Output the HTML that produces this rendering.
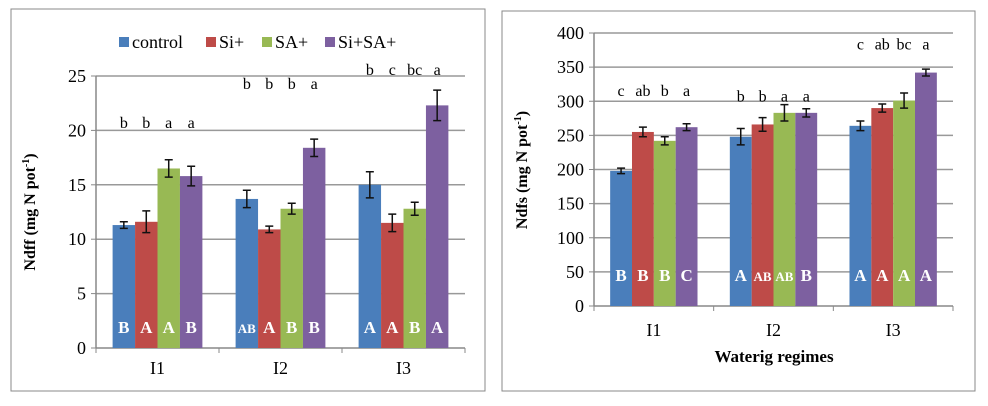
<!DOCTYPE html>
<html><head><meta charset="utf-8"><style>
body{margin:0;background:#fff;width:988px;height:401px;overflow:hidden;font-family:"Liberation Serif","DejaVu Serif",serif}
</style></head><body>
<svg id="s" width="988" height="401" xmlns="http://www.w3.org/2000/svg" font-family="'Liberation Serif','DejaVu Serif',serif">
<rect x="11" y="9" width="474" height="382" fill="#fff" stroke="#888"/>
<rect x="502" y="11" width="473" height="380" fill="#fff" stroke="#888"/>
<g id="legend"></g>
<text x="35" y="212" transform="rotate(-90 35 212)" text-anchor="middle" font-weight="bold" font-size="16">Ndff (mg N pot<tspan font-size="10" dy="-6">-1</tspan><tspan dy="6">)</tspan></text>
<text x="527" y="170" transform="rotate(-90 527 170)" text-anchor="middle" font-weight="bold" font-size="16">Ndfs (mg N pot<tspan font-size="10" dy="-6">-1</tspan><tspan dy="6">)</tspan></text>
<text x="774" y="362" text-anchor="middle" font-weight="bold" font-size="17">Waterig regimes</text>
</svg>
<script>
const categories=["I1","I2","I3"];
const seriesNames=["control","Si+","SA+","Si+SA+"];
const colors=["#4a7ebb","#be4b48","#98b954","#7d60a0"];
const leftControl=[11.3,13.7,15.0];
const leftSi=[11.6,10.9,11.5];
const leftSA=[16.5,12.8,12.8];
const leftSiSA=[15.8,18.4,22.3];
const leftErrControl=[0.3,0.8,1.2];
const leftErrSi=[1.0,0.3,0.8];
const leftErrSA=[0.8,0.5,0.6];
const leftErrSiSA=[0.9,0.8,1.4];
const leftTicks=[0,5,10,15,20,25];
const leftTop=[["b","b","a","a"],["b","b","b","a"],["b","c","bc","a"]];
const leftBottom=[["B","A","A","B"],["AB","A","B","B"],["A","A","B","A"]];
const leftTopVal=[20.2,23.8,25.1];
const rightControl=[198,248,264];
const rightSi=[255,266,290];
const rightSA=[242,283,301];
const rightSiSA=[262,283,342];
const rightErrControl=[4,12,7];
const rightErrSi=[7,10,6];
const rightErrSA=[6,12,11];
const rightErrSiSA=[5,6,5];
const rightTicks=[0,50,100,150,200,250,300,350,400];
const rightTop=[["c","ab","b","a"],["b","b","a","a"],["c","ab","bc","a"]];
const rightBottom=[["B","B","B","C"],["A","AB","AB","B"],["A","A","A","A"]];
const rightTopVal=[308,300,376];

const NS="http://www.w3.org/2000/svg";
const svg=document.getElementById('s');
function mk(t,a,txt,parent){const e=document.createElementNS(NS,t);for(const k in a)e.setAttribute(k,a[k]);if(txt!==undefined)e.textContent=txt;(parent||svg).appendChild(e);return e;}

function chart(cfg){
  const {x0,x1,y0,yTop,max,ticks,vals,errs,top,bottom,topVal,bottomY,pfx}=cfg;
  const ys=v=>y0-(v/max)*(y0-yTop);
  const cw=(x1-x0)/categories.length;
  ticks.forEach(t=>{
    if(t>0){const g=mk('line',{x1:x0,x2:x1,y1:ys(t),y2:ys(t),stroke:'#999','stroke-width':1.5});
    
    }
    const tl=mk('text',{x:x0-10,y:ys(t)+6,'text-anchor':'end','font-size':18},String(t));
    
    
    mk('line',{x1:x0-5,x2:x0,y1:ys(t),y2:ys(t),stroke:'#888'});
  });
  const ax=mk('line',{x1:x0,x2:x0,y1:yTop,y2:y0,stroke:'#888','stroke-width':1.5});
  
  
  const xa=mk('line',{x1:x0,x2:x1,y1:y0,y2:y0,stroke:'#888','stroke-width':1.5});
  
  
  for(let i=0;i<=categories.length;i++)mk('line',{x1:x0+i*cw,x2:x0+i*cw,y1:y0,y2:y0+5,stroke:'#888'});
  const gw=cw*0.73, bw=gw/4;
  categories.forEach((c,i)=>{
    const gx=x0+i*cw+(cw-gw)/2;
    const cl=mk('text',{x:x0+i*cw+cw/2,y:bottomY,'text-anchor':'middle','font-size':18},c);
    
    
    for(let s=0;s<4;s++){
      const v=vals[s][i],e=errs[s][i],bx=gx+s*bw;
      const r=mk('rect',{x:bx,y:ys(v),width:bw,height:y0-ys(v),fill:colors[s]});
      
      
      const cx=bx+bw/2;
      const eb=mk('path',{d:`M${cx},${ys(v+e)}V${ys(v-e)}M${cx-4},${ys(v+e)}H${cx+4}M${cx-4},${ys(v-e)}H${cx+4}`,stroke:'#111','stroke-width':1.5,fill:'none'});
      
      
      const tt=mk('text',{x:cx,y:ys(topVal[i]),'text-anchor':'middle','font-size':16},top[i][s]);
      
      
      const bl=bottom[i][s];
      const bt=mk('text',{x:cx,y:cfg.innerY,'text-anchor':'middle','font-size':bl.length>1?13:17,'font-weight':'bold',fill:'#fff'},bl);
      
      
    }
  });
}
chart({x0:96,x1:465,y0:348,yTop:76,max:25,ticks:leftTicks,vals:[leftControl,leftSi,leftSA,leftSiSA],errs:[leftErrControl,leftErrSi,leftErrSA,leftErrSiSA],top:leftTop,bottom:leftBottom,topVal:leftTopVal,bottomY:374,innerY:333,pfx:'left'});
chart({x0:594,x1:953,y0:306,yTop:33,max:400,ticks:rightTicks,vals:[rightControl,rightSi,rightSA,rightSiSA],errs:[rightErrControl,rightErrSi,rightErrSA,rightErrSiSA],top:rightTop,bottom:rightBottom,topVal:rightTopVal,bottomY:336,innerY:281,pfx:'right'});

const lg=document.getElementById('legend');
const lx=[119,206,262,325];
seriesNames.forEach((n,i)=>{
  mk('rect',{x:lx[i],y:37,width:10,height:10,fill:colors[i]},undefined,lg);
  const t=mk('text',{x:lx[i]+13,y:48,'font-size':18},n,lg);
  
  
});
</script>
</body></html>
